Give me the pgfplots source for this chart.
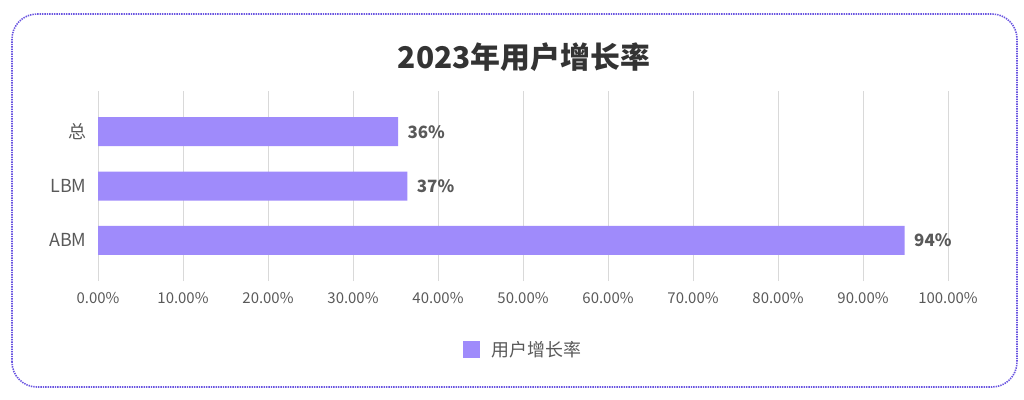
\documentclass[border=0pt]{standalone}
\usepackage{pgfplots}
\pgfplotsset{compat=1.18}
\usepackage{fontspec}
\setmainfont{Noto Sans CJK SC}
\definecolor{barc}{HTML}{9F8BFB}
\definecolor{txt}{HTML}{595959}
\definecolor{gridc}{HTML}{D9D9D9}
\definecolor{framec}{HTML}{6A55E0}
\begin{document}
\begin{tikzpicture}[x=1bp,y=1bp]
\path[use as bounding box] (0,0) rectangle (1024,399);
\draw[framec, line width=1.6bp, dash pattern=on 1.4bp off 1.0bp, rounded corners=25bp] (12,12) rectangle (1017,385);
\node[font=\fontsize{30}{33}\selectfont\bfseries, text=black!80] at (524,342) {2023年用户增长率};
\begin{axis}[
  at={(98bp,118bp)}, anchor=south west,
  scale only axis, width=850bp, height=190bp,
  xbar, bar width=29bp,
  xmin=0, xmax=100, ymin=-0.75, ymax=2.75,
  ytick={0,1,2}, yticklabels={ABM,LBM,总},
  xtick={0,10,20,30,40,50,60,70,80,90,100},
  xticklabels={0.00\%,10.00\%,20.00\%,30.00\%,40.00\%,50.00\%,60.00\%,70.00\%,80.00\%,90.00\%,100.00\%},
  axis line style={draw=none},
  major tick length=0pt,
  xmajorgrids, grid style={draw=gridc, line width=0.9bp},
  xticklabel style={font=\fontsize{15}{17}\selectfont, text=txt, yshift=-8bp},
  yticklabel style={font=\fontsize{18}{21}\selectfont, text=txt, xshift=-8bp},
  nodes near coords,
  point meta=explicit symbolic,
  nodes near coords style={font=\fontsize{17}{20}\selectfont\bfseries, text=txt, anchor=west, xshift=6bp},
  legend style={draw=none, at={(0.5,-0.363)}, anchor=center, font=\fontsize{18}{21}\selectfont, text=txt},
  legend image code/.code={\fill[barc] (0bp,-8.5bp) rectangle (17bp,8.5bp);},
]
\addplot[fill=barc, draw=none] coordinates {(94.9,0) [94\%] (36.4,1) [37\%] (35.3,2) [36\%]};
\addlegendentry{\hspace{10bp}用户增长率}
\end{axis}
\end{tikzpicture}
\end{document}
